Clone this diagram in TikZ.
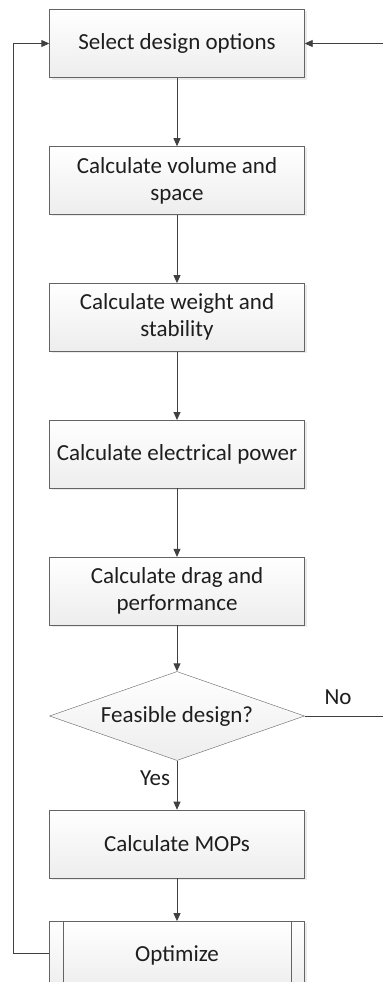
\documentclass[tikz,border=0pt]{standalone}
\usepackage{fontspec}
\setmainfont{Carlito}
\usetikzlibrary{positioning, arrows.meta, shapes.geometric, shadows}

\definecolor{linegray}{RGB}{64,64,64}
\definecolor{boxgray}{RGB}{100,100,100}
\definecolor{textgray}{RGB}{30,30,30}

\tikzset{
  flowbox/.style = {draw = boxgray, rectangle, minimum width = 255pt, minimum height = 68pt,
    align = center, inner sep = 2pt, top color = white, bottom color = gray!14,
    drop shadow = {shadow xshift = 2pt, shadow yshift = -2pt, fill = gray!25, opacity = 0.6},
    text = textgray, font = \fontsize{23}{27}\selectfont},
  decision/.style = {draw = boxgray, diamond, aspect = 2.87, minimum width = 255pt, minimum height = 89pt,
    inner sep = 0pt, top color = white, bottom color = gray!14,
    text = textgray, font = \fontsize{23}{27}\selectfont},
  flowline/.style = {draw = linegray, line width = 0.9pt, -{Triangle[length = 8pt, width = 7pt]}},
  plainline/.style = {draw = linegray, line width = 0.9pt},
  lbl/.style = {text = textgray, font = \fontsize{23}{27}\selectfont, inner sep = 0pt}
}

\begin{document}
\begin{tikzpicture}[x = 1pt, y = 1pt]
\useasboundingbox (0,0) rectangle (383,-982);
\clip (0,0) rectangle (383,-982);
\fill[white] (0,0) rectangle (383,-982);

\node[flowbox] (select) at (177,-43.5) {Select design options};
\node[flowbox, below = 68.5pt of select] (volume) {Calculate volume and\\space};
\node[flowbox, below = 68.5pt of volume] (weight) {Calculate weight and\\stability};
\node[flowbox, below = 68.5pt of weight] (power) {Calculate electrical power};
\node[flowbox, below = 68.5pt of power] (drag) {Calculate drag and\\performance};
\node[decision, below = 46pt of drag] (feasible) {Feasible design?};
\node[flowbox, below = 49pt of feasible] (mops) {Calculate MOPs};
\node[flowbox, below = 43pt of mops] (optimize) {Optimize};
\draw[boxgray] ([xshift = 14pt]optimize.north west) -- ([xshift = 14pt]optimize.south west);
\draw[boxgray] ([xshift = -14pt]optimize.north east) -- ([xshift = -14pt]optimize.south east);

\coordinate (input) at (383,-43.5);
\coordinate (loopbot) at (13,-953);
\coordinate (looptop) at (13,-43.5);

\draw[flowline] (select) -- (volume);
\draw[flowline] (volume) -- (weight);
\draw[flowline] (weight) -- (power);
\draw[flowline] (power) -- (drag);
\draw[flowline] (drag) -- (feasible);
\draw[flowline] (feasible) -- (mops);
\draw[flowline] (mops) -- (optimize);
\draw[flowline] (input) -- (select);
\draw[plainline] (feasible.east) -- (feasible.east -| input);
\draw[flowline] (optimize.west |- loopbot) -- (loopbot) -- (looptop) -- (select);

\node[lbl] (no) at (338,-697) {No};
\node[lbl] (yes) at (155,-778) {Yes};
\end{tikzpicture}
\end{document}
